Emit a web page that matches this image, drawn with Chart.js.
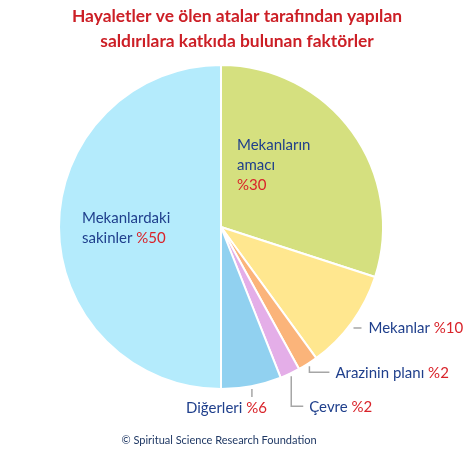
<!DOCTYPE html>
<html>
<head>
<meta charset="utf-8">
<script src="https://cdn.jsdelivr.net/npm/chart.js@4"></script>
<style>
  html, body { margin: 0; padding: 0; background: #fff; }
  #wrap { width: 475px; height: 456px; }
</style>
</head>
<body>
<div id="wrap"><canvas id="pieChart" width="475" height="456"></canvas></div>
<script>
// data
const titleLines = ['Hayaletler ve ölen atalar tarafından yapılan', 'saldırılara katkıda bulunan faktörler'];
const categories = [['Mekanların', 'amacı'], ['Mekanlar'], ['Arazinin planı'], ['Çevre'], ['Diğerleri'], ['Mekanlardaki', 'sakinler']];
const percents = [30, 10, 2, 2, 6, 50];
const sliceColors = ['#d5e07f', '#ffe78f', '#fbb47a', '#e4aee8', '#91d1f0', '#b4ebfc'];
const footerText = '© Spiritual Science Research Foundation';

const BLUE = '#1f3f8c';
const RED = '#d9232a';
const FONT = 'Lato, "Open Sans", sans-serif';

// where each label goes relative to its slice (layout only)
const placement = [
    { inside: true, x: 237, y: 145, pctOnNewLine: true },
    { leader: 'h', dy: 4, len: 7, gap: 7 },
    { leader: 'elbow', down: 6, len: 20, gap: 6 },
    { leader: 'elbow', down: 30, len: 12, gap: 6 },
    { leader: 'v', down: 8, textDy: 19, textDx: -66 },
    { inside: true, x: 82, y: 218, pctOnNewLine: false }
];

function drawPieces(ctx, parts, x, y) {
    // parts: [[text, color], ...] drawn left to right
    let cx = x;
    parts.forEach(p => {
        ctx.fillStyle = p[1];
        ctx.fillText(p[0], cx, y);
        cx += ctx.measureText(p[0]).width;
    });
    return cx;
}

const labelPlugin = {
    id: 'labelPlugin',
    afterDraw(chart) {
        const ctx = chart.ctx;
        const arcs = chart.getDatasetMeta(0).data;
        ctx.save();

        // title
        ctx.font = 'bold 17.4px ' + FONT;
        ctx.fillStyle = '#cc1f26';
        ctx.textAlign = 'center';
        ctx.textBaseline = 'middle';
        titleLines.forEach((t, i) => ctx.fillText(t, 237, 16 + i * 25));

        // footer
        ctx.font = '11px ' + FONT;
        ctx.fillStyle = '#1f3864';
        ctx.fillText(footerText, 219, 440);

        ctx.font = '15px ' + FONT;
        ctx.textAlign = 'left';
        ctx.textBaseline = 'middle';
        ctx.strokeStyle = '#a6a6a6';
        ctx.lineWidth = 1.5;

        arcs.forEach((arc, i) => {
            const p = placement[i];
            const lines = categories[i];
            const pct = '%' + percents[i];
            if (p.inside) {
                const lh = 20;
                lines.forEach((ln, j) => {
                    const isLast = j === lines.length - 1;
                    if (isLast && !p.pctOnNewLine) {
                        drawPieces(ctx, [[ln + ' ', BLUE], [pct, RED]], p.x, p.y + j * lh);
                    } else {
                        drawPieces(ctx, [[ln, BLUE]], p.x, p.y + j * lh);
                    }
                });
                if (p.pctOnNewLine) {
                    drawPieces(ctx, [[pct, RED]], p.x, p.y + lines.length * lh);
                }
                return;
            }
            const props = arc.getProps(['x', 'y', 'startAngle', 'endAngle', 'outerRadius'], true);
            const mid = (props.startAngle + props.endAngle) / 2;
            const r = props.outerRadius + 3;
            const sx = props.x + Math.cos(mid) * r;
            const sy = props.y + Math.sin(mid) * r;
            ctx.beginPath();
            let tx, ty;
            if (p.leader === 'h') {
                ctx.moveTo(sx - 1, sy + p.dy);
                ctx.lineTo(sx + p.len, sy + p.dy);
                tx = sx + p.len + p.gap; ty = sy + p.dy;
            } else if (p.leader === 'elbow') {
                ctx.moveTo(sx, sy);
                ctx.lineTo(sx, sy + p.down);
                ctx.lineTo(sx + p.len, sy + p.down);
                tx = sx + p.len + p.gap; ty = sy + p.down + 1;
            } else {
                ctx.moveTo(sx, sy);
                ctx.lineTo(sx, sy + p.down);
                tx = sx + p.textDx; ty = sy + p.textDy;
            }
            ctx.stroke();
            drawPieces(ctx, [[lines.join(' ') + ' ', BLUE], [pct, RED]], tx, ty);
        });
        ctx.restore();
    }
};

const pieCtx = document.getElementById('pieChart').getContext('2d');
const pieChart = new Chart(pieCtx, {
    type: 'pie',
    data: {
        labels: categories.map(c => c.join(' ')),
        datasets: [{
            data: percents,
            backgroundColor: sliceColors,
            borderColor: '#ffffff',
            borderWidth: 2
        }]
    },
    options: {
        responsive: false,
        animation: false,
        layout: {
            padding: { left: 58, right: 91, top: 64, bottom: 66 }
        },
        plugins: {
            legend: { display: false },
            tooltip: { enabled: false }
        }
    },
    plugins: [labelPlugin]
});
</script>
</body>
</html>
